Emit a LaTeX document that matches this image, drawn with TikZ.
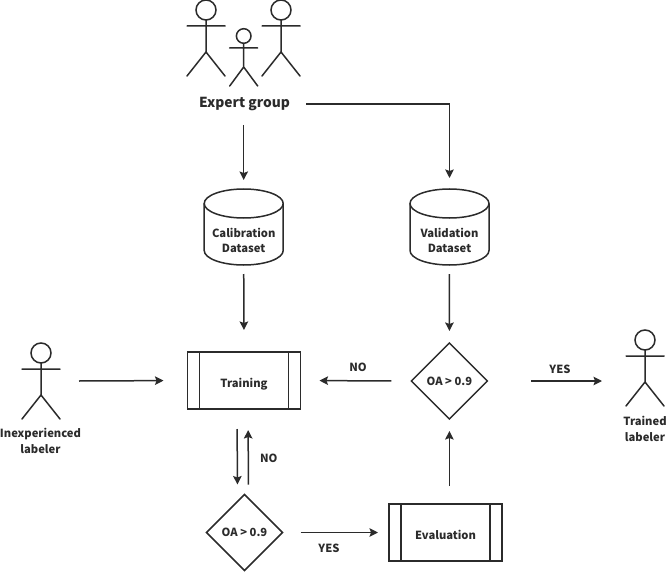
\documentclass[tikz,border=0pt]{standalone}
\usepackage{fontspec}
\setmainfont{Noto Sans CJK SC}
\usetikzlibrary{arrows.meta}
\usetikzlibrary{shapes.geometric}

\definecolor{ink}{HTML}{2B2B2B}

\tikzset{
    every node/.style={text=ink},
    tag/.style={font=\fontsize{11.2}{15.5}\selectfont\bfseries, align=center, inner sep=0pt},
    flow/.style={draw=ink, line width=1.5pt, -{Stealth[length=8.5pt, width=8.5pt, inset=1.5pt]}},
    dataset/.style={minimum width=79pt, minimum height=76pt, inner sep=0pt, outer sep=0pt},
    process/.style={tag, draw=ink, line width=1.5pt, minimum width=113pt, minimum height=57pt, outer sep=0pt,
        text height=13pt, text depth=0pt,
        path picture={
            \draw[ink, line width=1.5pt] ([xshift=12pt]path picture bounding box.north west) -- ([xshift=12pt]path picture bounding box.south west);
            \draw[ink, line width=1.5pt] ([xshift=-12pt]path picture bounding box.north east) -- ([xshift=-12pt]path picture bounding box.south east);
        }},
    check/.style={tag, draw=ink, line width=1.5pt, diamond, minimum width=76pt, minimum height=76pt, outer sep=0pt},
    pics/stickman/.style={code={
        \draw[ink, line width=1.5pt, line cap=round]
            (0,0) circle (10)
            (0,10) -- (0,42)
            (-19,16) -- (19,16)
            (-19,66) -- (0,42) -- (19,66);
    }},
    pics/stickkid/.style={code={
        \draw[ink, line width=1.5pt, line cap=round]
            (0,0) circle (7.3)
            (0,7.3) -- (0,31)
            (-14,12) -- (14,12)
            (-14,50) -- (0,31) -- (14,50);
    }},
}

% drum outline round a dataset node
\newcommand{\drum}[1]{
    \draw[ink, line width=1.5pt] ([yshift=23.5pt]#1.center) ellipse (39.5 and 14.5);
    \draw[ink, line width=1.5pt] ([xshift=39.5pt, yshift=23.5pt]#1.center) -- ([xshift=39.5pt, yshift=-23.5pt]#1.center)
        arc (0:180:39.5 and 14.5) -- ([xshift=-39.5pt, yshift=23.5pt]#1.center);
}

\begin{document}
\begin{tikzpicture}[x=1pt, y=-1pt]
    \useasboundingbox (0,0) rectangle (666,572);

    % people
    \pic at (206,10) {stickman};
    \pic at (243.7,36) {stickkid};
    \pic at (281,10) {stickman};
    \pic at (41,353) {stickman};
    \pic at (645,340) {stickman};

    \node[tag, font=\fontsize{13.8}{16}\selectfont\bfseries] (expert) at (244.5,104) {Expert group};
    \node[tag] (novice) at (40.5,441) {Inexperienced\\labeler};
    \node[tag] (trained) at (645,429) {Trained\\labeler};
    \coordinate (novicearm) at (79,381);
    \coordinate (trainedarm) at (602,381);

    % flow chart
    \node[dataset] (calib) at (243.7,227) {};
    \node[dataset] (valid) at (449.5,227) {};
    \drum{calib}
    \drum{valid}
    \node[tag] (calibtext) at (243.7,240.5) {Calibration\\Dataset};
    \node[tag] (validtext) at (449.5,240.5) {Validation\\Dataset};
    \node[process] (train) at (244,380.5) {Training};
    \node[process] (eval) at (445.5,532.5) {Evaluation};
    \node[check] (gate) at (449.4,381) {OA > 0.9};
    \node[check] (quiz) at (244.5,532.5) {OA > 0.9};

    % arrows
    \draw[flow, shorten <=14pt, shorten >=9pt] (expert.south -| calib.north) -- (calib.north);
    \draw[flow, shorten <=16pt, shorten >=11pt] (expert.east) -| (valid.north);
    \draw[flow, shorten <=9pt, shorten >=22pt] (calib.south) -- (train.north);
    \draw[flow, shorten <=9pt, shorten >=12pt] (valid.south) -- (gate.north);
    \draw[flow, shorten >=24pt] (novicearm) -- (train.west);
    \draw[flow, shorten <=20pt, shorten >=10pt] ([xshift=-7pt]train.south) -- ([xshift=-7pt]quiz.north);
    \draw[flow, shorten <=10pt, shorten >=21pt] ([xshift=4pt]quiz.north) -- ([xshift=4pt]train.south);
    \draw[flow, shorten <=18pt, shorten >=11pt] (quiz.east) -- (eval.west);
    \draw[flow, shorten >=12pt] (eval.north -| gate.south) ++(0,-18) -- (gate.south);
    \draw[flow, shorten <=4pt, shorten >=19pt] (gate.west) ++(-16,0) -- (train.east);
    \draw[flow, shorten <=44pt] (gate.east) -- (trainedarm);

    \node[tag] at (358,367) {NO};
    \node[tag] at (560,369) {YES};
    \node[tag] at (268.7,458) {NO};
    \node[tag] at (329,548) {YES};
\end{tikzpicture}
\end{document}
